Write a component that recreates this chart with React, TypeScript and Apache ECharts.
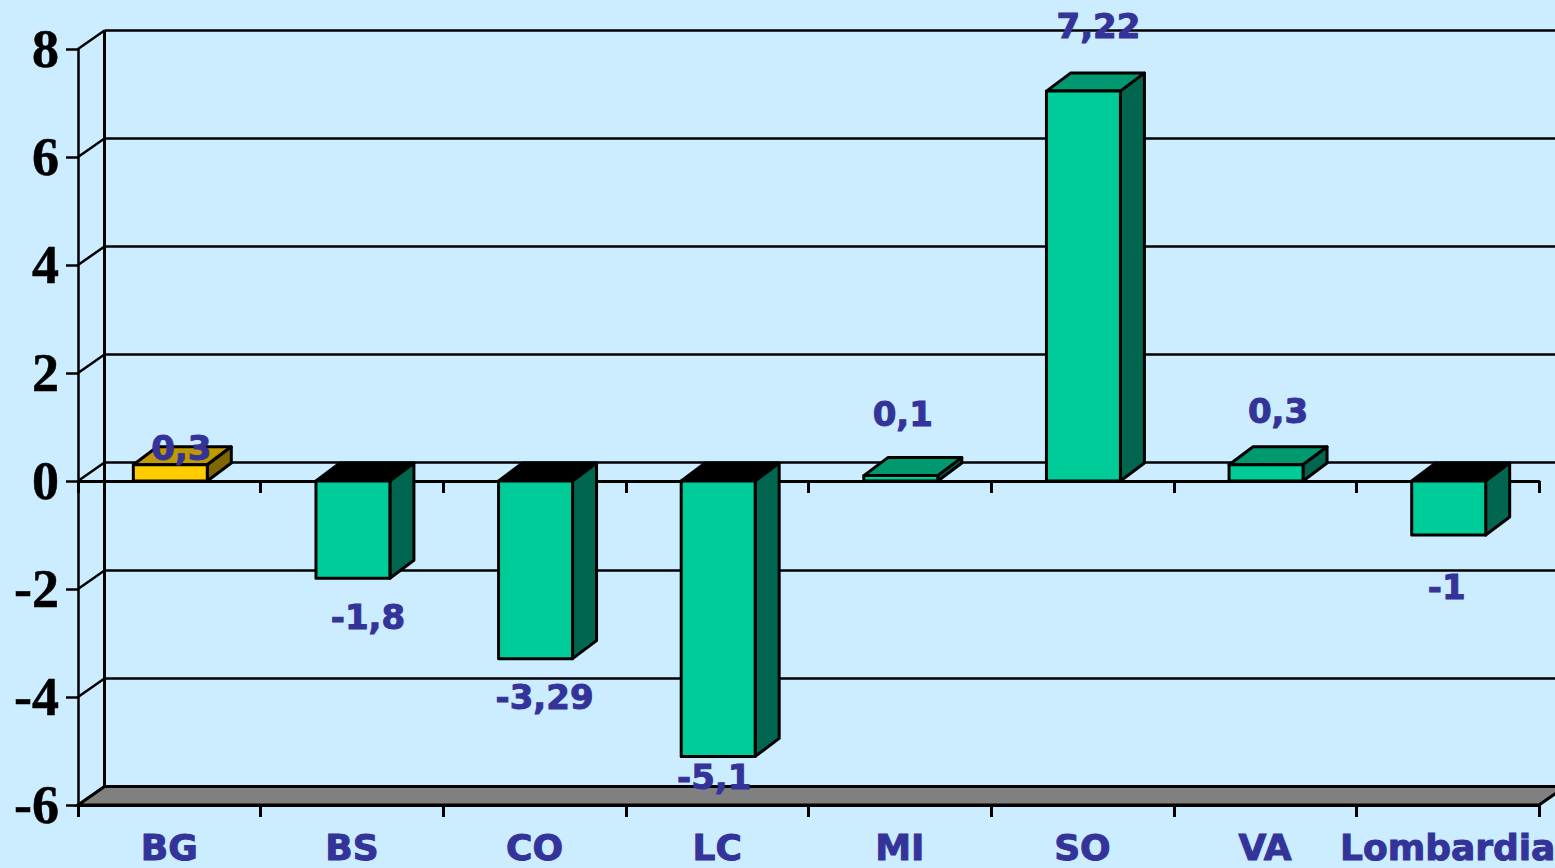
import React, { useEffect, useRef } from "react";
import * as echarts from "echarts";

const categories = ["BG", "BS", "CO", "LC", "MI", "SO", "VA", "Lombardia"];
const values = [0.3, -1.8, -3.29, -5.1, 0.1, 7.22, 0.3, -1];
const highlightedCategories = ["BG"];
const yTicks = [-6, -4, -2, 0, 2, 4, 6, 8];

// Label displacement from the bar end, as placed in the source chart (px).
const labelNudgeX = [11, 15, 9, -4, 2, 15, 12, -2];
const labelNudgeY = [-17, 39, 38, 21, -62, -65, -54, 52];

const BG = "#CCECFF";
const INK = "#333399";
const DX = 24;
const DY = -18;
const WALL_DX = 26.5;
const WALL_DY = -18.5;
const LW = 3;

const face = (points: number[][], fill: string) => ({
  type: "polygon",
  shape: { points },
  style: { fill, stroke: "#000", lineWidth: LW, lineJoin: "round" },
});
const seg = (a: number[], b: number[], lineWidth = LW) => ({
  type: "line",
  shape: { x1: a[0], y1: a[1], x2: b[0], y2: b[1] },
  style: { stroke: "#000", lineWidth },
});

const renderFloor = (params: any, api: any) => {
  const cs = params.coordSys;
  const y = api.coord([0, api.value(0)])[1];
  const l = cs.x;
  const r = cs.x + cs.width;
  return {
    type: "group",
    children: [
      {
        type: "polygon",
        shape: { points: [[l, y], [r, y], [r + WALL_DX, y + WALL_DY], [l + WALL_DX, y + WALL_DY]] },
        style: { fill: "#808080", stroke: "#000", lineWidth: 3 },
      },
    ],
  };
};

const renderWall = (params: any, api: any) => {
  const cs = params.coordSys;
  const v = api.value(0);
  const y = api.coord([0, v])[1];
  const l = cs.x;
  const children: any[] = [
    seg([l, y], [l + WALL_DX, y + WALL_DY], 2.5),
    seg([l + WALL_DX, y + WALL_DY], [cs.x + cs.width + WALL_DX, y + WALL_DY], 2.5),
  ];
  if (params.dataIndex === 0) {
    children.push(seg([l + WALL_DX, cs.y + WALL_DY], [l + WALL_DX, cs.y + cs.height + WALL_DY], 3));
  }
  return { type: "group", children };
};

const renderBar = (params: any, api: any) => {
  const i = api.value(0);
  const v = api.value(1);
  const [cx, yEnd] = api.coord([i, v]);
  const y0 = api.coord([i, 0])[1];
  const w = api.size([1, 0])[0] * 0.405;
  const l = cx + 1 - w / 2;
  const r = cx + 1 + w / 2;
  const top = Math.min(y0, yEnd);
  const bot = Math.max(y0, yEnd);
  const gold = highlightedCategories.includes(categories[i]);
  const front = gold ? "#FFCC00" : "#00CC99";
  const topFace = v < 0 ? "#000000" : gold ? "#BF9900" : "#00996F";
  const side = gold ? "#806600" : "#006650";
  return {
    type: "group",
    children: [
      face([[l, top], [r, top], [r + DX, top + DY], [l + DX, top + DY]], topFace),
      face([[r, top], [r + DX, top + DY], [r + DX, bot + DY], [r, bot]], side),
      face([[l, top], [r, top], [r, bot], [l, bot]], front),
    ],
  };
};

const renderLabel = (params: any, api: any) => {
  const i = api.value(0);
  const v = api.value(1);
  const [cx, yEnd] = api.coord([i, v]);
  return {
    type: "text",
    x: cx + 1 + labelNudgeX[i],
    y: yEnd + labelNudgeY[i],
    style: {
      text: String(v).replace(".", ","),
      fill: INK,
      stroke: INK,
      lineWidth: 1,
      fontFamily: "DejaVu Sans",
      fontWeight: "bold",
      fontSize: 34,
      align: "center",
      verticalAlign: "middle",
    },
  };
};

export default function App() {
  const ref = useRef<HTMLDivElement>(null);
  useEffect(() => {
    document.body.style.margin = "0";
    document.body.style.background = BG;
    const chart = echarts.init(ref.current!, null, { renderer: "svg" });
    const barData = values.map((v, i) => [i, v]);
    const axisLine = { lineStyle: { color: "#000", width: LW } };
    chart.setOption({
      animation: false,
      backgroundColor: BG,
      grid: { left: 78, right: 16, top: 49, bottom: 63, containLabel: false, outerBoundsMode: "none" },
      xAxis: [
        {
          type: "category",
          data: categories,
          position: "bottom",
          axisLine: { ...axisLine, onZero: false },
          axisTick: { show: true, length: 12, lineStyle: { color: "#000", width: LW } },
          axisLabel: {
            interval: 0,
            color: INK,
            textBorderColor: INK,
            textBorderWidth: 1,
            fontFamily: "DejaVu Sans",
            fontWeight: "bold",
            fontSize: 36,
            margin: 24,
            hideOverlap: false,
          },
          splitLine: { show: false },
        },
        {
          type: "category",
          data: categories,
          position: "bottom",
          axisLine: { ...axisLine, onZero: true },
          axisTick: { show: true, length: 12, lineStyle: { color: "#000", width: LW } },
          axisLabel: { show: false },
          splitLine: { show: false },
        },
      ],
      yAxis: {
        type: "value",
        min: -6,
        max: 8,
        interval: 2,
        axisLine: { show: true, onZero: false, lineStyle: { color: "#000", width: 2.5 } },
        axisTick: { show: true, length: 12, lineStyle: { color: "#000", width: 2.5 } },
        axisLabel: {
          color: "#000",
          fontFamily: "Liberation Serif",
          fontWeight: "bold",
          fontSize: 54,
          margin: 19,
          textBorderColor: "#000",
          textBorderWidth: 0.5,
          customValues: yTicks,
        },
        splitLine: { show: false },
      },
      series: [
        { type: "custom", z: 1, clip: false, renderItem: renderFloor, data: [[-6]], encode: { y: 0 } },
        { type: "custom", z: 1, clip: false, renderItem: renderWall, data: yTicks.map((t) => [t]), encode: { y: 0 } },
        { type: "custom", z: 3, clip: false, renderItem: renderBar, data: barData, encode: { x: 0, y: 1 } },
        { type: "custom", z: 4, clip: false, renderItem: renderLabel, data: barData, encode: { x: 0, y: 1 } },
      ],
    });
    return () => chart.dispose();
  }, []);
  return <div ref={ref} style={{ position: "fixed", left: 0, top: 0, width: 1555, height: 868 }} />;
}
